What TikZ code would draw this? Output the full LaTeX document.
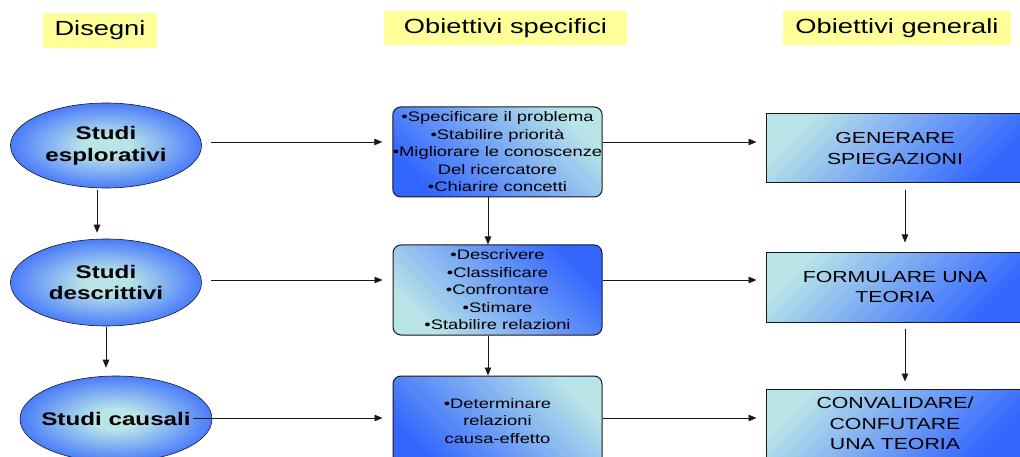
\documentclass[tikz,border=0pt]{standalone}
\usepackage{fontspec}
\setmainfont{Liberation Sans}[FakeStretch=1.33]
\usepackage{tikz}
\usetikzlibrary{shapes.geometric,arrows.meta}
\definecolor{ovBlue}{RGB}{51,102,255}
\definecolor{ovLight}{RGB}{185,228,232}
\definecolor{hdYellow}{RGB}{255,255,153}
\definecolor{lnDark}{RGB}{25,25,25}
\pgfdeclareradialshading{ovalshade}{\pgfpoint{0bp}{0bp}}{color(0bp)=(ovLight); color(6bp)=(ovLight); color(29bp)=(ovBlue); color(50bp)=(ovBlue)}

\begin{document}
\begin{tikzpicture}[x=1pt, y=-1pt]%
  \tikzset{conn/.style={draw=lnDark, line width=0.9pt, -{Triangle[length=8pt,width=6.5pt]}}}
  \tikzset{head/.style={fill=hdYellow, inner sep=0pt, font=\fontsize{20.5}{24}\selectfont}}
  \tikzset{oval/.style={ellipse, draw=lnDark, line width=0.6pt, shading=ovalshade, inner sep=0pt, align=center, font=\bfseries\fontsize{18.2}{21.8}\selectfont}}
  \tikzset{spec/.style={rectangle, rounded corners=8pt, draw=lnDark, line width=1pt, minimum width=209, minimum height=90, inner sep=0pt, align=center, font=\fontsize{13.8}{17.5}\selectfont}}
  \tikzset{gen/.style={rectangle, draw=lnDark, line width=1pt, minimum width=258, minimum height=69, inner sep=0pt, align=center, top color=ovLight, bottom color=ovBlue, shading angle=45, font=\fontsize{16}{20.5}\selectfont}}
  \useasboundingbox (0,0) rectangle (1020,457);

  % column heads
  \node[head, minimum width=114, minimum height=35] at (100,30.5) (hDis) {Disegni};
  \node[head, minimum width=243, minimum height=34] at (505.5,28) (hSpec) {Obiettivi specifici\hspace{14pt}};
  \node[head, minimum width=228, minimum height=34] at (897,28) (hGen) {Obiettivi generali};

  \node[oval, minimum width=191, minimum height=85] at (106,145.5) (esp) {Studi\\esplorativi};
  \node[oval, minimum width=191, minimum height=87] at (106,282.5) (des) {Studi\\descrittivi};
  \node[oval, minimum width=192, minimum height=86] at (116,419) (cau) {\makebox[120pt]{Studi causali}};

  \node[spec, top color=ovLight, bottom color=ovBlue, shading angle=-45] at (497.5,152) (mEsp)
    {•Specificare il problema\\•Stabilire priorità\\•Migliorare le conoscenze\\Del ricercatore\\•Chiarire concetti};
  \node[spec, top color=ovBlue, bottom color=ovLight, shading angle=-45] at (497.5,290) (mDes)
    {•Descrivere\\•Classificare\\•Confrontare\\•Stimare\\•Stabilire relazioni};
  \node[spec, top color=ovLight, bottom color=ovBlue, shading angle=-45] at (497.5,421) (mCau)
    {•Determinare\\relazioni\\causa-effetto};

  \node[gen] at (895,148.5) (gEsp) {GENERARE\\SPIEGAZIONI};
  \node[gen, minimum height=70] at (895,287) (gDes) {FORMULARE UNA\\TEORIA};
  \node[gen] at (895,423.5) (gCau) {CONVALIDARE/\\CONFUTARE\\UNA TEORIA};

  % down the columns
  \draw[conn, shorten <=2pt, shorten >=6pt] ([xshift=-9pt]esp.south) -- ([xshift=-9pt]des.north);
  \draw[conn, shorten <=1pt, shorten >=8pt] (des.south) -- (des.south |- cau.north);
  \draw[conn] ([xshift=-9.5pt]mEsp.south) -- ([xshift=-9.5pt]mDes.north);
  \draw[conn] ([xshift=-9.5pt]mDes.south) -- ([xshift=-9.5pt]mCau.north);
  \draw[conn, shorten <=7pt, shorten >=9pt] ([xshift=10pt]gEsp.south) -- ([xshift=10pt]gDes.north);
  \draw[conn, shorten <=6pt, shorten >=7pt] ([xshift=10pt]gDes.south) -- ([xshift=10pt]gCau.north);

  % across the rows
  \coordinate (rowEsp) at ([yshift=3.5pt]esp.east);
  \coordinate (rowDes) at ([yshift=2.5pt]des.east);
  \coordinate (rowCau) at ([xshift=-19pt,yshift=1pt]cau.east);
  \draw[conn, shorten <=9pt, shorten >=10pt] (rowEsp) -- (rowEsp -| mEsp.west);
  \draw[conn, shorten <=9pt, shorten >=10pt] (rowDes) -- (rowDes -| mDes.west);
  \draw[conn, shorten >=10pt] (rowCau) -- (rowCau -| mCau.west);
  \draw[conn, shorten >=9pt] (rowEsp -| mEsp.east) -- (rowEsp -| gEsp.west);
  \draw[conn, shorten >=9pt] (rowDes -| mDes.east) -- (rowDes -| gDes.west);
  \draw[conn, shorten >=9pt] (rowCau -| mCau.east) -- (rowCau -| gCau.west);
\end{tikzpicture}
\end{document}
